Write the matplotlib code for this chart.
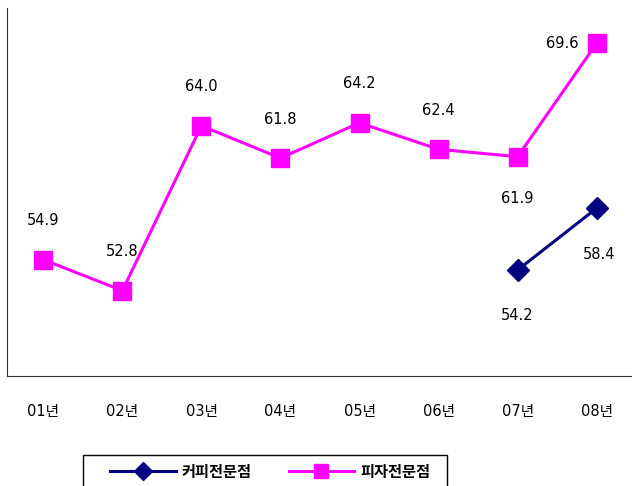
import numpy as np
import matplotlib.pyplot as plt
from matplotlib.patches import Rectangle

plt.rcParams['font.family'] = ['DejaVu Sans', 'Noto Sans CJK KR']

years = ['01년', '02년', '03년', '04년', '05년', '06년', '07년', '08년']
coffee = [np.nan, np.nan, np.nan, np.nan, np.nan, np.nan, 54.2, 58.4]
pizza = [54.9, 52.8, 64.0, 61.8, 64.2, 62.4, 61.9, 69.6]

W, H = 632, 486
fig = plt.figure(figsize=(W / 100, H / 100), dpi=100)
ax = fig.add_axes([7 / W, 1 - 376 / H, 626 / W, 368 / H])

x = np.arange(len(years))
ax.plot(x, coffee, color='#000080', lw=2.2, marker='D', ms=11,
        label='커피전문점')
ax.plot(x, pizza, color='#FF00FF', lw=2.2, marker='s', ms=13,
        label='피자전문점')

# value labels (offsets in points)
for i, v in enumerate(pizza):
    if i == 6:
        dx, dy = 0, -30
    elif i == 7:
        dx, dy = -25, 0
    else:
        dx, dy = 0, 28
    ax.annotate(f'{v:.1f}', (i, v), xytext=(dx, dy), textcoords='offset points',
                ha='center', va='center', fontsize=10.5)
for i, v in enumerate(coffee):
    if np.isnan(v):
        continue
    dx, dy = (0, -33) if i == 6 else (2, -33)
    ax.annotate(f'{v:.1f}', (i, v), xytext=(dx, dy), textcoords='offset points',
                ha='center', va='center', fontsize=10.5)

ax.set_xlim(-0.46, 7.46)
ax.set_ylim(47, 72)
ax.set_xticks(x)
ax.set_xticklabels(years, fontsize=10.5)
ax.tick_params(axis='x', length=0, pad=20)
ax.set_yticks([])
for s in ['top', 'right']:
    ax.spines[s].set_visible(False)
ax.spines['left'].set_color('#333333')
ax.spines['bottom'].set_color('#333333')

# legend box (runs off the bottom edge like the original)
fig.patches.append(Rectangle((83 / W, -0.02), (447 - 83) / W, 0.02 + 31 / H,
                             transform=fig.transFigure, fill=False,
                             edgecolor='black', lw=1))
fig.legend(loc='center left', bbox_to_anchor=(104 / W, 1 - 472 / H),
           ncol=2, prop={'size': 11, 'weight': 'bold'}, frameon=False,
           handlelength=4.3, columnspacing=2.4, markerscale=0.8,
           handletextpad=0.4, borderaxespad=0)

fig.savefig('out.png', dpi=100)
